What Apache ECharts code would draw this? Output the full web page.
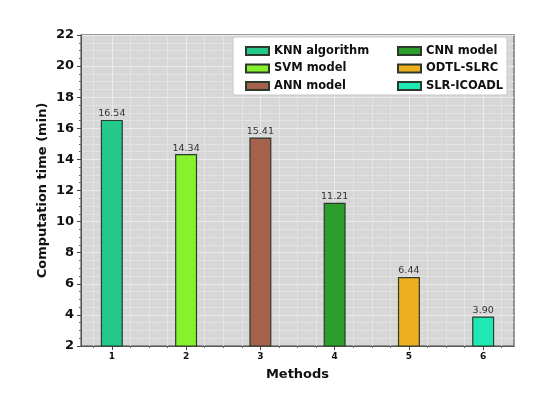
<!DOCTYPE html>
<html lang="en">
<head>
    <meta charset="UTF-8">
    <title>Computation time</title>
    <script src="https://cdn.jsdelivr.net/npm/echarts@6/dist/echarts.min.js"></script>
</head>
<body style="margin:0;background:#fff;">
    <div id="main" style="width:546px;height:394px;"></div>
    <script>
        // data
        const methods = ['KNN algorithm', 'SVM model', 'ANN model', 'CNN model', 'ODTL-SLRC', 'SLR-ICOADL'];
        const positions = [1, 2, 3, 4, 5, 6];
        const times = [16.54, 14.34, 15.41, 11.21, 6.44, 3.90];
        const colors = ['#22c98a', '#86f22e', '#a5614c', '#2c9e2c', '#eeaf1f', '#1fe8b4'];
        const minorX = [0.75, 1.25, 1.5, 1.75, 2.25, 2.5, 2.75, 3.25, 3.5, 3.75, 4.25, 4.5, 4.75, 5.25, 5.5, 5.75, 6.25];

        const myChart = echarts.init(document.getElementById('main'));
        const font = 'DejaVu Sans';

        const series = methods.map((name, i) => ({
            name: name,
            type: 'bar',
            xAxisIndex: 0,
            barWidth: 22,
            barGap: '-100%',
            data: [[positions[i], times[i]]],
            itemStyle: { color: colors[i], borderColor: '#2b3a2b', borderWidth: 1.2 },
            label: {
                show: true, position: 'top', distance: 1,
                fontFamily: font, fontSize: 9.5, color: '#333',
                formatter: p => p.value[1].toFixed(2)
            }
        }));

        const legendCommon = {
            orient: 'vertical',
            itemWidth: 23,
            itemHeight: 8,
            itemGap: 5.5,
            icon: 'rect',
            textStyle: { fontFamily: font, fontSize: 11.5, fontWeight: 'bold', color: '#111' },
            selectedMode: false
        };

        const option = {
            animation: false,
            grid: {
                left: 81, right: 32, top: 35, bottom: 48,
                show: true, backgroundColor: '#d7d7d7', borderColor: '#777', borderWidth: 1.5
            },
            graphic: [{
                type: 'rect', z: 50,
                shape: { x: 233, y: 37, width: 274, height: 58, r: 2 },
                style: { fill: '#fff', stroke: '#c8c8c8', lineWidth: 1 }
            }],
            legend: [
                Object.assign({ left: 240, top: 40, data: methods.slice(0, 3), z: 60 }, legendCommon),
                Object.assign({ left: 392, top: 40, data: methods.slice(3), z: 60 }, legendCommon)
            ],
            xAxis: [{
                type: 'value', min: 0.585, max: 6.415,
                name: 'Methods', nameLocation: 'middle', nameGap: 22,
                nameTextStyle: { fontFamily: font, fontSize: 13, fontWeight: 'bold', color: '#111' },
                axisLine: { lineStyle: { color: '#555', width: 1 } },
                axisTick: { customValues: positions, length: 4, lineStyle: { color: '#444' } },
                axisLabel: {
                    customValues: positions, margin: 6,
                    fontFamily: font, fontSize: 9, fontWeight: 'bold', color: '#111'
                },
                splitLine: { show: true, lineStyle: { color: '#ebebeb', width: 1 } }
            }, {
                type: 'value', min: 0.585, max: 6.415, position: 'bottom',
                axisLine: { show: false },
                axisTick: { customValues: minorX, length: 2, lineStyle: { color: '#666' } },
                axisLabel: { show: false },
                splitLine: { show: true, lineStyle: { color: '#e6e6e6', width: 0.8 } }
            }],
            yAxis: {
                type: 'value', min: 2, max: 22, interval: 2,
                name: 'Computation time (min)', nameLocation: 'middle', nameGap: 32,
                nameMoveOverlap: false,
                nameTextStyle: { fontFamily: font, fontSize: 13, fontWeight: 'bold', color: '#111' },
                axisLine: { show: true, lineStyle: { color: '#555', width: 1 } },
                axisTick: { show: true, length: 4, lineStyle: { color: '#444' } },
                minorTick: { show: true, splitNumber: 4, length: 2, lineStyle: { color: '#666' } },
                axisLabel: { margin: 7, fontFamily: font, fontSize: 13, fontWeight: 'bold', color: '#111' },
                splitLine: { show: true, lineStyle: { color: '#ebebeb', width: 1 } },
                minorSplitLine: { show: true, lineStyle: { color: '#e6e6e6', width: 0.8 } }
            },
            series: series
        };

        myChart.setOption(option);
    </script>
</body>
</html>
